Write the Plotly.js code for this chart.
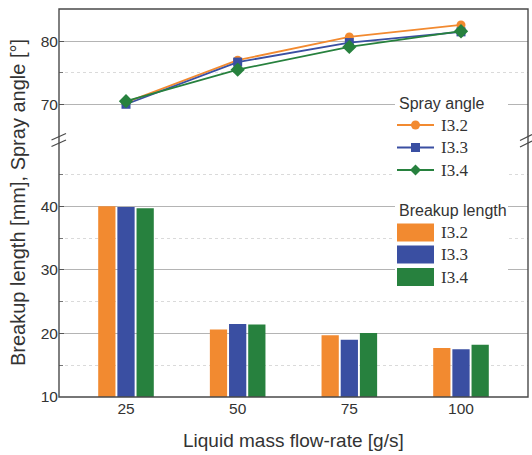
<!DOCTYPE html>
<html>
<head>
<meta charset="utf-8">
<script src="https://cdn.plot.ly/plotly-3.0.1.min.js"></script>
<style>
  html, body { margin: 0; padding: 0; background: #fff; }
  #chart { width: 532px; height: 455px; }
</style>
</head>
<body>
<div id="chart"></div>
<script>
// Liquid mass flow-rate [g/s]
const flowRates = [25, 50, 75, 100];
const tickLabels = ['25', '50', '75', '100'];

// Injector names and colours
const seriesNames = ['I3.2', 'I3.3', 'I3.4'];
const seriesColors = ['#F28A30', '#3A4FA2', '#27813E'];
const markerSymbols = ['circle', 'square', 'diamond'];

// Spray angle [°]
const sprayI32 = [70.3, 77.0, 80.7, 82.6];
const sprayI33 = [70.0, 76.7, 79.8, 81.5];
const sprayI34 = [70.5, 75.5, 79.1, 81.6];

// Breakup length [mm]
const breakupI32 = [40.0, 20.6, 19.7, 17.7];
const breakupI33 = [39.9, 21.5, 19.0, 17.5];
const breakupI34 = [39.7, 21.4, 20.05, 18.2];

const sprayData = [sprayI32, sprayI33, sprayI34];
const breakupData = [breakupI32, breakupI33, breakupI34];

// plot-area geometry in pixels (used for paper-space decorations)
const W = 532, H = 455;
const M = { l: 59, r: 4, t: 9, b: 58 };
const PW = W - M.l - M.r, PH = H - M.t - M.b;
const px = v => (v - M.l) / PW;
const py = v => (H - M.b - v) / PH;

const traces = [];
breakupData.forEach((vals, i) => {
  traces.push({
    type: 'bar', x: flowRates, y: vals, name: seriesNames[i],
    xaxis: 'x', yaxis: 'y',
    marker: { color: seriesColors[i], line: { width: 0 } },
    showlegend: false, hoverinfo: 'x+y'
  });
});
sprayData.forEach((vals, i) => {
  traces.push({
    type: 'scatter', mode: 'lines+markers', x: flowRates, y: vals, name: seriesNames[i],
    xaxis: 'x', yaxis: 'y2',
    line: { color: seriesColors[i], width: 1.8 },
    marker: { color: seriesColors[i], symbol: markerSymbols[i], size: i === 2 ? 11 : 9 },
    showlegend: false, cliponaxis: false
  });
});

const tickFont = { family: 'Liberation Sans, Arial, sans-serif', size: 15.5, color: '#333' };
const gridCommon = {
  showline: false, zeroline: false,
  showgrid: true, gridcolor: '#b4b4b4', gridwidth: 1,
  ticks: 'inside', ticklen: 5, tickcolor: '#555',
  tickfont: tickFont,
  minor: { dtick: 5, showgrid: true, gridcolor: '#dadada', griddash: 'dot', gridwidth: 1,
           ticks: 'inside', ticklen: 4, tickcolor: '#777' }
};

const shapes = [];
const annotations = [];

// plot frame
shapes.push({ type: 'rect', xref: 'paper', yref: 'paper', x0: 0, x1: 1, y0: 0, y1: 1,
  line: { color: '#4a4a4a', width: 1.4 }, layer: 'above' });

// axis break marks on both sides
function breakMark(xa, xb, y1a, y1b, y2a, y2b) {
  shapes.push({ type: 'line', xref: 'paper', yref: 'paper', x0: px(xa), x1: px(xb), y0: py(y1a), y1: py(y1b),
    line: { color: '#4a4a4a', width: 1.2 }, layer: 'above' });
  shapes.push({ type: 'line', xref: 'paper', yref: 'paper', x0: px(xa), x1: px(xb), y0: py(y2a), y1: py(y2b),
    line: { color: '#4a4a4a', width: 1.2 }, layer: 'above' });
}
breakMark(51.5, 66, 140, 133.5, 146.5, 140);
breakMark(520, 532, 140.5, 134.5, 147, 141);

// legend panels
function panel(y0, y1) {
  shapes.push({ type: 'rect', xref: 'paper', yref: 'paper', x0: px(395), x1: px(508), y0: py(y1), y1: py(y0),
    fillcolor: '#ffffff', line: { width: 0 }, layer: 'above' });
}
panel(88, 183);
panel(196, 290);

const legTitleFont = { family: 'Liberation Sans, Arial, sans-serif', size: 16, color: '#333' };
const legItemFont = { family: 'Liberation Serif, Times New Roman, serif', size: 17, color: '#333' };

annotations.push({ xref: 'paper', yref: 'paper', x: px(397), y: py(103), xanchor: 'left', yanchor: 'middle',
  text: 'Spray angle', showarrow: false, font: legTitleFont });
annotations.push({ xref: 'paper', yref: 'paper', x: px(397), y: py(211), xanchor: 'left', yanchor: 'middle',
  text: 'Breakup length', showarrow: false, font: legTitleFont });

const lineRows = [125, 147.5, 170];
const barRows = [232.5, 254.5, 277];
seriesNames.forEach((name, i) => {
  const yl = lineRows[i];
  shapes.push({ type: 'line', xref: 'paper', yref: 'paper', x0: px(397), x1: px(434), y0: py(yl), y1: py(yl),
    line: { color: seriesColors[i], width: 1.8 }, layer: 'above' });
  const cx = px(415.5), cy = py(yl);
  if (markerSymbols[i] === 'circle') {
    shapes.push({ type: 'circle', xref: 'paper', yref: 'paper', xsizemode: 'pixel', ysizemode: 'pixel',
      xanchor: cx, yanchor: cy, x0: -4.5, x1: 4.5, y0: -4.5, y1: 4.5,
      fillcolor: seriesColors[i], line: { width: 0 }, layer: 'above' });
  } else if (markerSymbols[i] === 'square') {
    shapes.push({ type: 'rect', xref: 'paper', yref: 'paper', xsizemode: 'pixel', ysizemode: 'pixel',
      xanchor: cx, yanchor: cy, x0: -4.5, x1: 4.5, y0: -4.5, y1: 4.5,
      fillcolor: seriesColors[i], line: { width: 0 }, layer: 'above' });
  } else {
    shapes.push({ type: 'path', xref: 'paper', yref: 'paper', xsizemode: 'pixel', ysizemode: 'pixel',
      xanchor: cx, yanchor: cy, path: 'M0,5.5 L5.5,0 L0,-5.5 L-5.5,0 Z',
      fillcolor: seriesColors[i], line: { width: 0 }, layer: 'above' });
  }
  annotations.push({ xref: 'paper', yref: 'paper', x: px(439), y: py(yl), xanchor: 'left', yanchor: 'middle',
    text: name, showarrow: false, font: legItemFont });

  const yb = barRows[i];
  shapes.push({ type: 'rect', xref: 'paper', yref: 'paper', x0: px(397), x1: px(434), y0: py(yb + 9), y1: py(yb - 9),
    fillcolor: seriesColors[i], line: { width: 0 }, layer: 'above' });
  annotations.push({ xref: 'paper', yref: 'paper', x: px(439), y: py(yb), xanchor: 'left', yanchor: 'middle',
    text: name, showarrow: false, font: legItemFont });
});

// axis titles
annotations.push({ xref: 'paper', yref: 'paper', x: px(293.5), y: py(440), xanchor: 'center', yanchor: 'middle',
  text: 'Liquid mass flow-rate [g/s]', showarrow: false,
  font: { family: 'Liberation Sans, Arial, sans-serif', size: 19, color: '#333' } });
annotations.push({ xref: 'paper', yref: 'paper', x: px(18), y: 0.5, xanchor: 'center', yanchor: 'middle',
  text: 'Breakup length [mm], Spray angle [°]', textangle: -90, showarrow: false,
  font: { family: 'Liberation Sans, Arial, sans-serif', size: 20, color: '#333' } });

const layout = {
  width: W, height: H,
  margin: M,
  paper_bgcolor: '#ffffff', plot_bgcolor: '#ffffff',
  barmode: 'group', bargap: 0.485, bargroupgap: 0.1,
  showlegend: false,
  xaxis: {
    range: [10, 115], tickvals: flowRates, ticktext: tickLabels,
    showgrid: false, zeroline: false, showline: false, ticks: '',
    tickfont: tickFont, anchor: 'y'
  },
  yaxis: Object.assign({}, gridCommon, {
    domain: [0, py(144.0)], range: [10, 49.8], dtick: 10, tick0: 0, anchor: 'x'
  }),
  yaxis2: Object.assign({}, gridCommon, {
    domain: [py(134.7), 1], range: [65.17, 85.13], dtick: 10, tick0: 0, anchor: 'x'
  }),
  shapes: shapes,
  annotations: annotations,
  font: { family: 'Liberation Sans, Arial, sans-serif', color: '#333' }
};

Plotly.newPlot('chart', traces, layout, { displayModeBar: false, staticPlot: true });
</script>
</body>
</html>
